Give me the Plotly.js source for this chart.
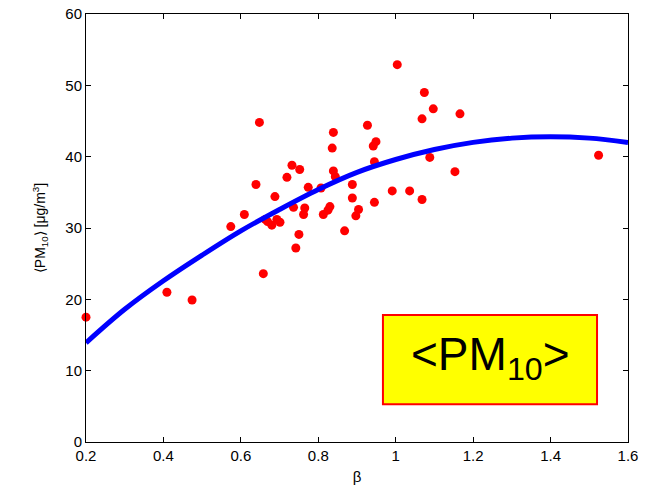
<!DOCTYPE html>
<html>
<head>
<meta charset="utf-8">
<script src="https://cdn.plot.ly/plotly-3.0.1.min.js"></script>
<style>html,body{margin:0;padding:0;background:#fff;}#chart{width:660px;height:492px;}</style>
</head>
<body>
<div id="chart"></div>
<script>
// Observed data points (beta, <PM10>)
const betaObs = [0.200, 0.409, 0.474, 0.658, 0.648, 0.639, 0.609, 0.574, 0.663, 0.669,
  1.004, 1.074, 1.097, 1.166, 1.068, 0.927, 0.839, 0.949, 0.942, 0.836,
  1.088, 0.945, 0.732, 0.752, 0.839, 1.153, 0.844, 0.719, 0.888, 0.774,
  0.807, 0.991, 1.036, 0.688, 0.888, 1.068, 0.945, 0.736, 0.765, 0.830,
  0.825, 0.904, 0.762, 0.813, 0.897, 0.693, 0.701, 0.680, 0.868, 0.750,
  0.742, 1.524];
const pmObs = [17.5, 21.0, 19.9, 23.6, 44.8, 36.1, 31.9, 30.2, 31.2, 30.9,
  52.9, 49.0, 46.7, 46.0, 45.3, 44.4, 43.4, 42.1, 41.5, 41.2,
  39.9, 39.3, 38.8, 38.2, 38.0, 37.9, 37.2, 37.1, 36.1, 35.7,
  35.6, 35.2, 35.2, 34.4, 34.2, 34.0, 33.6, 32.9, 32.8, 33.0,
  32.5, 32.6, 31.9, 31.9, 31.7, 31.2, 30.8, 30.4, 29.6, 29.1,
  27.2, 40.2];
// Fitted curve
const betaFit = [0.2, 0.3, 0.4, 0.5, 0.6, 0.7, 0.8, 0.9, 1.0, 1.1, 1.2, 1.3, 1.4, 1.5, 1.6];
const pmFit = [13.9, 18.6, 22.6, 26.2, 29.6, 32.6, 35.4, 37.8, 39.6, 41.0, 42.0, 42.6, 42.8, 42.6, 42.0];
const xTicks = [0.2, 0.4, 0.6, 0.8, 1.0, 1.2, 1.4, 1.6];
const xTickText = ['0.2', '0.4', '0.6', '0.8', '1', '1.2', '1.4', '1.6'];
const yTicks = [0, 10, 20, 30, 40, 50, 60];

const fontFam = 'Liberation Sans, Arial, sans-serif';
const traces = [
  {x: betaObs, y: pmObs, type: 'scatter', mode: 'markers',
   marker: {color: 'rgb(255,0,0)', size: 9}, cliponaxis: false, hoverinfo: 'x+y'},
  {x: betaFit, y: pmFit, type: 'scatter', mode: 'lines',
   line: {color: 'rgb(0,0,255)', width: 5, shape: 'spline'}}
];
const axisCommon = {
  showgrid: false, zeroline: false, showline: true, linecolor: '#000', linewidth: 1,
  mirror: 'ticks', ticks: 'inside', ticklen: 5, tickcolor: '#000',
  tickfont: {family: fontFam, size: 15, color: '#000'}
};
const layout = {
  width: 660, height: 492,
  margin: {l: 86, r: 32, t: 14, b: 50},
  paper_bgcolor: '#fff', plot_bgcolor: '#fff',
  showlegend: false,
  xaxis: Object.assign({}, axisCommon, {
    range: [0.2, 1.6], tickvals: xTicks, ticktext: xTickText,
    title: {text: 'β', font: {family: fontFam, size: 15, color: '#000'}, standoff: 8}
  }),
  yaxis: Object.assign({}, axisCommon, {
    range: [0, 60], tickvals: yTicks,
    title: {text: '⟨PM<sub>10</sub>⟩ [μg/m<sup>3</sup>]', font: {family: fontFam, size: 14, color: '#000'}, standoff: 16}
  }),
  shapes: [{type: 'rect', xref: 'x', yref: 'y', x0: 0.967, x1: 1.52, y0: 5.3, y1: 17.8,
    fillcolor: 'rgb(255,255,0)', line: {color: 'rgb(255,0,0)', width: 2}, layer: 'above'}],
  annotations: [{xref: 'x', yref: 'y', x: 1.244, y: 11.8, text: '&lt;PM<sub>10</sub>&gt;',
    showarrow: false, font: {family: fontFam, size: 46, color: '#000'}, xanchor: 'center', yanchor: 'middle'}]
};
Plotly.newPlot('chart', traces, layout, {displayModeBar: false, staticPlot: true});
</script>
</body>
</html>
